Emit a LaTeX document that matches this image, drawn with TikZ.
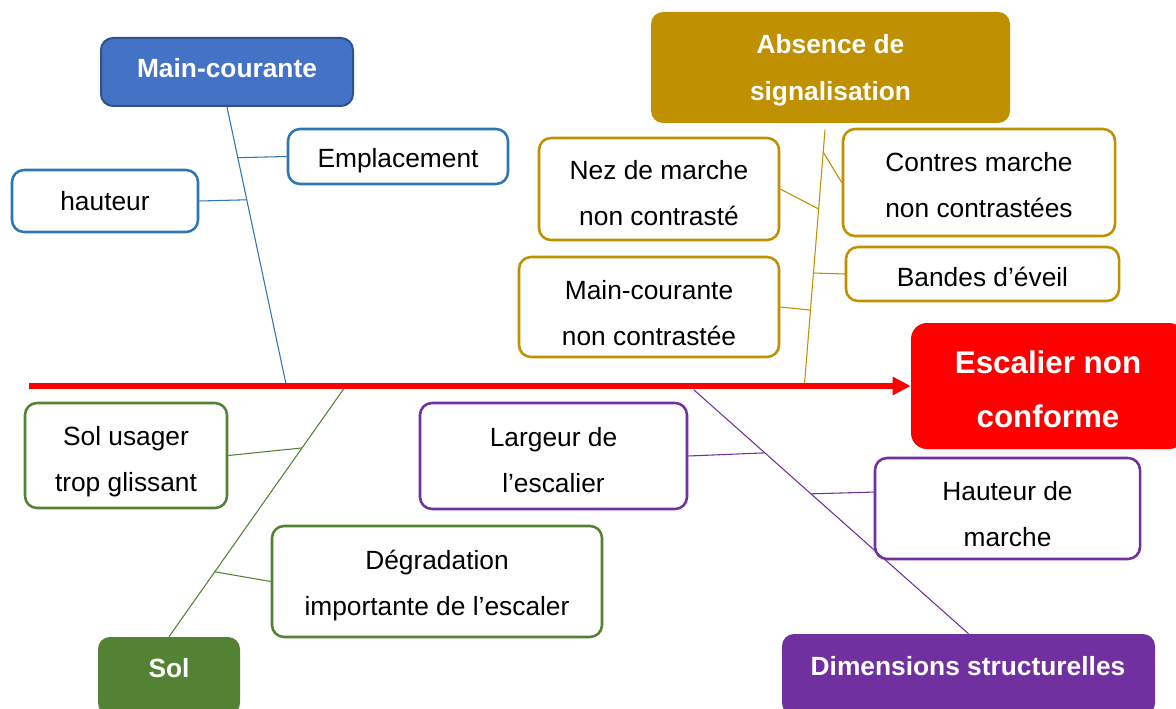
\documentclass[tikz,border=0pt]{standalone}
\usepackage{fontspec}
\setmainfont{Liberation Sans}
\usetikzlibrary{arrows.meta}
\definecolor{cblue}{HTML}{4472C4}
\definecolor{cbluedark}{HTML}{2F528F}
\definecolor{cblueline}{HTML}{2E75B6}
\definecolor{cgold}{HTML}{BF9000}
\definecolor{cgreen}{HTML}{548235}
\definecolor{cpurple}{HTML}{7030A0}
\definecolor{cred}{HTML}{FF0000}
\begin{document}
\begin{tikzpicture}[x=0.75pt,y=-0.75pt,
  obox/.style={draw=#1, line width=1.9pt, rounded corners=9pt, fill=white,
    inner sep=0pt, align=center, font=\fontsize{19.75}{34.5}\selectfont},
  head/.style={fill=#1, rounded corners=9pt, inner sep=0pt, align=center,
    text=white, font=\fontsize{19.75}{35.25}\selectfont\bfseries},
  htxt/.style={inner sep=0pt, text=white, font=\fontsize{19.75}{35.25}\selectfont\bfseries},
  spine/.style={draw=#1, line width=0.8pt},
  effect/.style={fill=cred, rounded corners=12pt, inner sep=0pt, align=center,
    text=white, font=\fontsize{23.5}{41}\selectfont\bfseries},
  mainarrow/.style={draw=cred, line width=4pt, -{Triangle[length=13.5pt,width=13pt]}},
  th/.style={text height=#1, text depth=0pt}
]
\clip (0,0) rectangle (1176,709);

% --- Main-courante (blue)
\node[head=cblue, draw=cbluedark, line width=1.5pt, minimum width=189pt, minimum height=51pt, th=8.4pt] (mc) at (227,72) {Main-courante};
\node[obox=cblueline, minimum width=165pt, minimum height=41.25pt, th=17pt] (emp) at (398,156.5) {Emplacement};
\node[obox=cblueline, minimum width=139.5pt, minimum height=46.5pt] (haut) at (105,201) {hauteur};

% --- Absence de signalisation (gold)
\node[head=cgold, minimum width=269.25pt, minimum height=83.25pt, th=50.1pt] (abs) at (830.5,67.5) {Absence de\\signalisation};
\node[obox=cgold, minimum width=180pt, minimum height=76.5pt, th=55pt] (nez) at (659,189) {Nez de marche\\non contrasté};
\node[obox=cgold, minimum width=204pt, minimum height=80.25pt, th=52pt] (contres) at (979,182.5) {Contres marche\\non contrastées};
\node[obox=cgold, minimum width=204.75pt, minimum height=40.5pt, th=18.5pt] (bandes) at (982.5,274) {Bandes d’éveil};
\node[obox=cgold, minimum width=195pt, minimum height=75pt, th=57pt] (mcnc) at (649,307) {Main-courante\\non contrastée};

% --- Effect
\node[effect, minimum width=205.5pt, minimum height=94.5pt, th=62.7pt] (esc) at (1048,386) {Escalier non\\conforme};

% --- Sol (green)
\node[obox=cgreen, minimum width=151.5pt, minimum height=78.75pt, th=54pt] (su) at (126,455.5) {Sol usager\\trop glissant};
\node[obox=cgreen, minimum width=247.5pt, minimum height=83.25pt, th=51pt] (degr) at (437,581.5) {Dégradation\\importante de l’escaler};
\node[head=cgreen, minimum width=106.5pt, minimum height=58.5pt] (sol) at (169,676) {};
\node[htxt] (soltxt) at (169,668) {Sol};

% --- Dimensions structurelles (purple)
\node[obox=cpurple, minimum width=200.25pt, minimum height=79.5pt, th=55pt] (lar) at (553.5,456) {Largeur de\\l’escalier};
\node[obox=cpurple, minimum width=198.75pt, minimum height=75.75pt, th=57pt] (hm) at (1007.5,508.5) {Hauteur de\\marche};
\node[head=cpurple, minimum width=279.75pt, minimum height=60.75pt] (dims) at (968.5,674.5) {};
\node[htxt] (dimstxt) at (968,666) {Dimensions structurelles};

% --- spines
\coordinate (bEnd) at (286,384);
\coordinate (gTop) at (825,130);
\coordinate (gEnd) at (804.5,384);
\coordinate (gnTop) at (345,387);
\coordinate (pTop) at (694,390);
\coordinate (rStart) at (29,386);

\draw[spine=cblueline] (mc.south) -- (bEnd) coordinate[pos=0.183] (bE) coordinate[pos=0.335] (bH);
\draw[spine=cgold] (gTop) -- (gEnd) coordinate[pos=0.087] (gC) coordinate[pos=0.311] (gN) coordinate[pos=0.563] (gB) coordinate[pos=0.709] (gM);
\draw[spine=cgreen] (gnTop) -- (sol.north) coordinate[pos=0.244] (gnS) coordinate[pos=0.74] (gnD);
\draw[spine=cpurple] (pTop) -- (dims.north) coordinate[pos=0.258] (pL) coordinate[pos=0.426] (pH);

% --- branches
\draw[spine=cblueline] (emp.west) -- (bE);
\draw[spine=cblueline] (haut.east) -- (bH);
\draw[spine=cgold] (nez.east) -- (gN);
\draw[spine=cgold] (contres.west) -- (gC);
\draw[spine=cgold] (bandes.west) -- (gB);
\draw[spine=cgold] (mcnc.east) -- (gM);
\draw[spine=cgreen] (su.east) -- (gnS);
\draw[spine=cgreen] (degr.west) -- (gnD);
\draw[spine=cpurple] (lar.east) -- (pL);
\draw[spine=cpurple] (hm.173) -- (pH);

% --- main arrow
\draw[mainarrow] (rStart) -- (esc.west);
\end{tikzpicture}
\end{document}
